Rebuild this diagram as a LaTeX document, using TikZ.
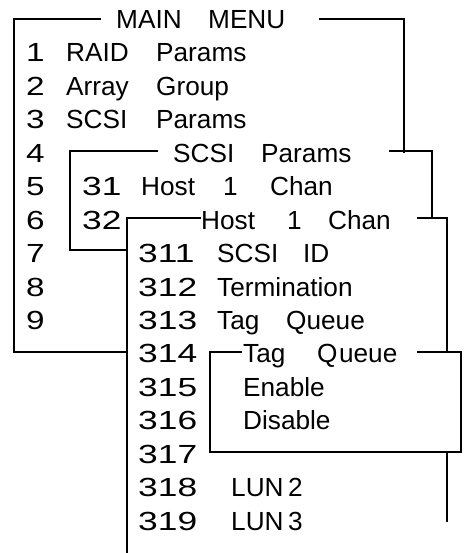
\documentclass[tikz,border=0pt]{standalone}
\usepackage{graphicx}
\usepackage{fontspec}
\setmainfont{Liberation Sans}
\newcommand\sd[1]{\scalebox{1.27}[1]{#1}}
\newcommand\md[1]{\scalebox{1.35}[1]{#1}}
\newcommand\col[2]{\makebox[#1pt][l]{#2}}
\begin{document}
\begin{tikzpicture}[x=1pt,y=-1pt,
  txt/.style={anchor=base west,inner sep=0pt,font=\fontsize{26.2}{30}\selectfont},
  frame/.style={line width=1.8pt,line cap=rect,line join=miter}]
\useasboundingbox (0,0) rectangle (465,553);
% box corners
\coordinate (a1) at (100,19);  \coordinate (a2) at (14,19);  \coordinate (a3) at (14,352);  \coordinate (a4) at (127,352);
\coordinate (a5) at (320,19);  \coordinate (a6) at (404,19); \coordinate (a7) at (404,152);
\coordinate (b1) at (157,151); \coordinate (b2) at (70,151); \coordinate (b3) at (70,250);  \coordinate (b4) at (127,250);
\coordinate (b5) at (390,151); \coordinate (b6) at (432,151); \coordinate (b7) at (432,218);
\coordinate (c1) at (200,218); \coordinate (c2) at (127,218); \coordinate (c3) at (127,553);
\coordinate (c4) at (418,218); \coordinate (c5) at (447,218); \coordinate (c6) at (447,352);
\coordinate (c7) at (447,452); \coordinate (c8) at (447,521);
\coordinate (d1) at (241,352); \coordinate (d2) at (210,352); \coordinate (d3) at (210,452);
\coordinate (d4) at (461,452); \coordinate (d5) at (461,352); \coordinate (d6) at (418,352);
% frames
\draw[frame] (a1) -- (a2) -- (a3) -- (a4);
\draw[frame] (a5) -- (a6) -- (a7);
\draw[frame] (b1) -- (b2) -- (b3) -- (b4);
\draw[frame] (b5) -- (b6) -- (b7);
\draw[frame] (c1) -- (c2) -- (c3);
\draw[frame] (c4) -- (c5) -- (c6);
\draw[frame] (c7) -- (c8);
\draw[frame] (d1) -- (d2) -- (d3) -- (d4) -- (d5) -- (d6);
% texts
\node[txt] (title) at (116,28.6) {\col{92}{MAIN}MENU};
\node[txt] (r1) at (26,62.0) {\col{40}{\sd{1}}\col{90}{RAID}Params};
\node[txt] (r2) at (26,95.5) {\col{40}{\sd{2}}\col{90}{Array}Group};
\node[txt] (r3) at (26,128.9) {\col{40}{\sd{3}}\col{90}{SCSI}Params};
\node[txt] (r4) at (26,162.3) {\sd{4}};
\node[txt] (h2) at (173,162.3) {\col{88}{SCSI}Params};
\node[txt] (r5) at (26,195.8) {\sd{5}};
\node[txt] (s31) at (82,195.8) {\col{59}{\md{31}}\col{82}{Host}\col{47}{1}Chan};
\node[txt] (r6) at (26,229.2) {\sd{6}};
\node[txt] (s32) at (82,229.2) {\md{32}};
\node[txt] (h3) at (201,229.2) {\col{86}{Host}\col{41}{1}Chan};
\node[txt] (r7) at (26,262.6) {\sd{7}};
\node[txt] (t311) at (138,262.6) {\col{79}{\md{311}}\col{86}{SCSI}ID};
\node[txt] (r8) at (26,296.0) {\sd{8}};
\node[txt] (t312) at (138,296.0) {\col{79}{\md{312}}Termination};
\node[txt] (r9) at (26,329.5) {\sd{9}};
\node[txt] (t313) at (138,329.5) {\col{79}{\md{313}}\col{69}{Tag}Queue};
\node[txt] (t314) at (138,362.9) {\md{314}};
\node[txt] (h4) at (243,362.9) {\col{74}{Tag}Q\kern1.5pt ueue};
\node[txt] (t315) at (138,396.3) {\col{105}{\md{315}}Enable};
\node[txt] (t316) at (138,429.8) {\col{105}{\md{316}}Disable};
\node[txt] (t317) at (138,463.2) {\md{317}};
\node[txt] (t318) at (138,496.6) {\col{93}{\md{318}}\col{57}{LUN}2};
\node[txt] (t319) at (138,530.1) {\col{93}{\md{319}}\col{57}{LUN}3};
\end{tikzpicture}
\end{document}
